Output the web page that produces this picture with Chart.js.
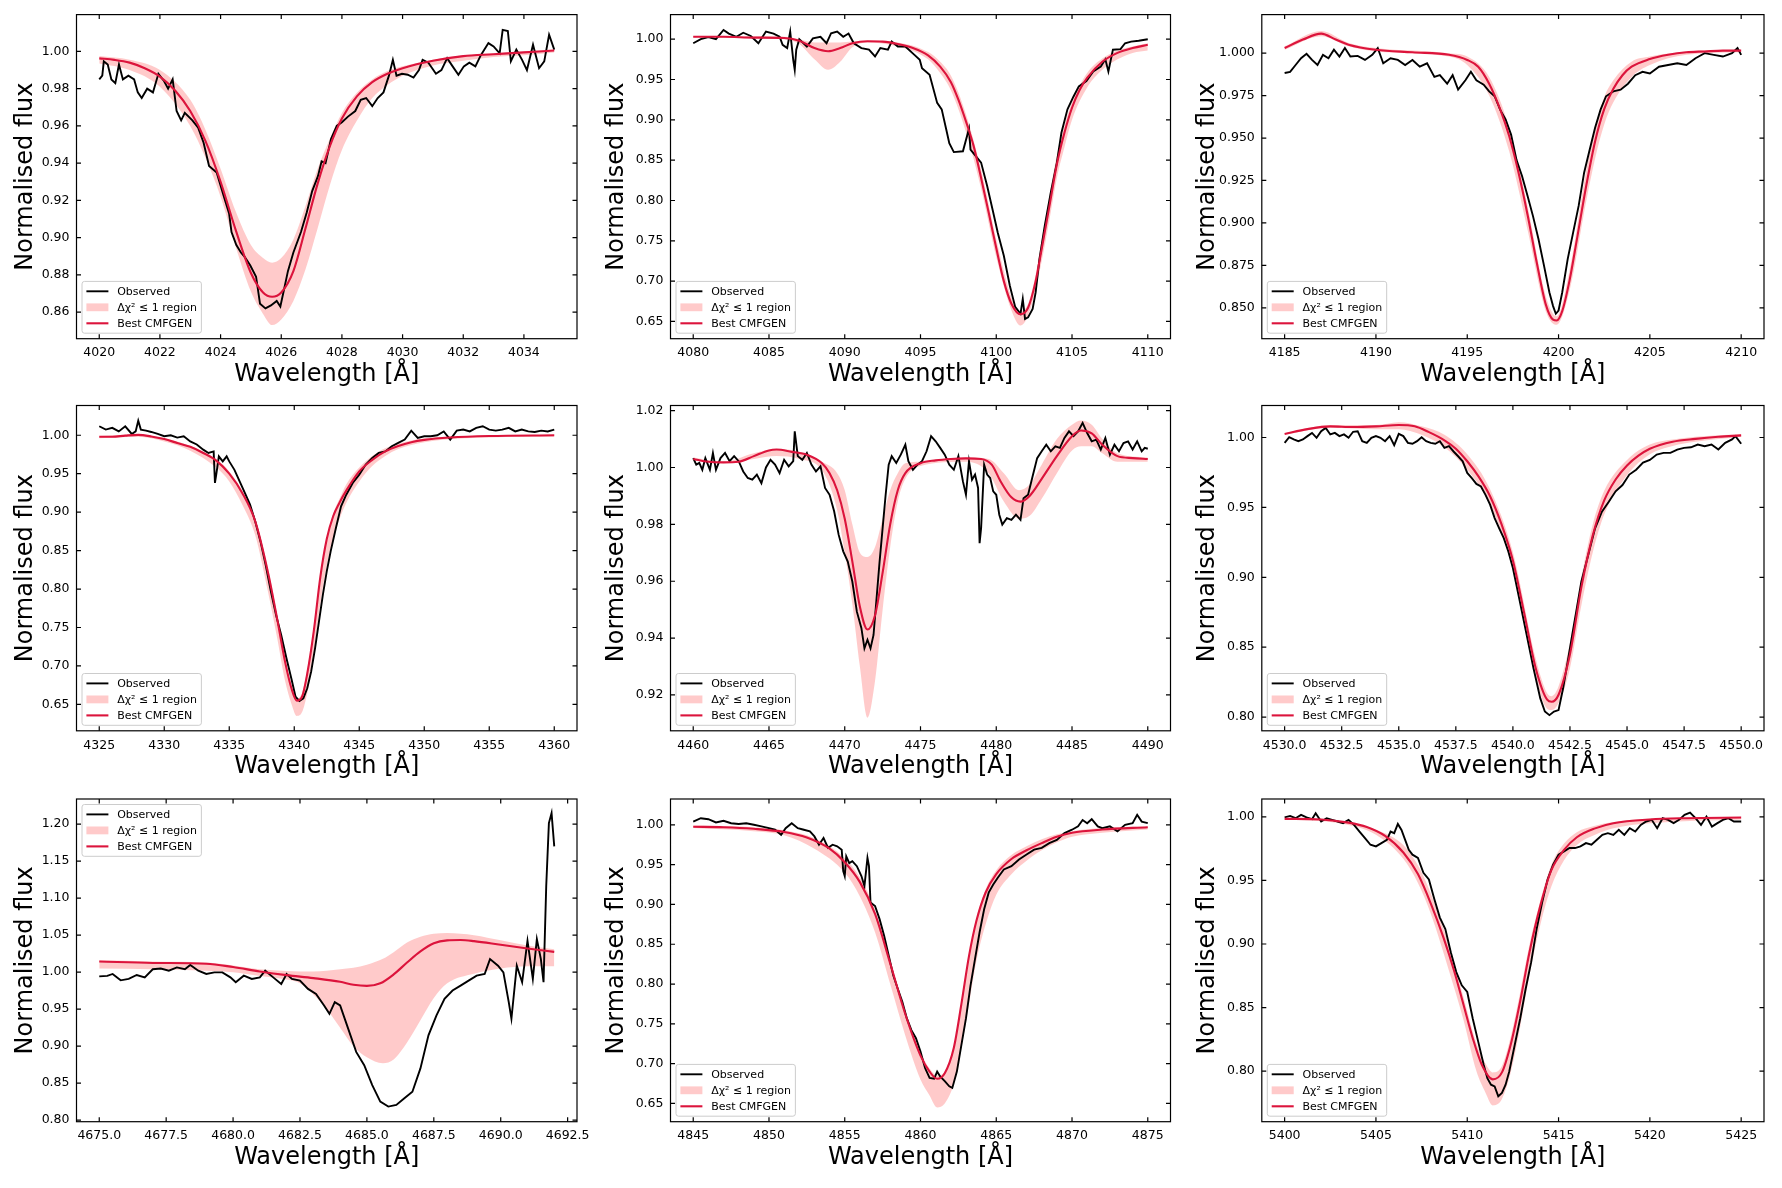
<!DOCTYPE html>
<html>
<head>
<meta charset="utf-8">
<script src="https://cdn.jsdelivr.net/npm/chart.js@4.4.1/dist/chart.umd.min.js"></script>
<style>
  body { margin: 0; background: #fff; width: 1782px; height: 1188px; position: relative; overflow: hidden; }
  canvas { position: absolute; }
</style>
</head>
<body>
<script>
// ---- data: observed [x, y], model [x, y], band [x, lo, hi] ----
const p1Obs = [[4020.0,0.985],[4020.1,0.987],[4020.15,0.9947],[4020.28,0.993],[4020.4,0.985],[4020.53,0.983],[4020.65,0.993],[4020.78,0.985],[4020.96,0.987],[4021.15,0.985],[4021.27,0.978],[4021.4,0.975],[4021.58,0.980],[4021.77,0.978],[4021.95,0.988],[4022.14,0.984],[4022.27,0.980],[4022.42,0.985],[4022.55,0.968],[4022.7,0.963],[4022.82,0.967],[4023.07,0.963],[4023.26,0.959],[4023.44,0.951],[4023.62,0.9385],[4023.87,0.935],[4024.11,0.922],[4024.28,0.913],[4024.36,0.903],[4024.52,0.896],[4024.67,0.892],[4024.8,0.8895],[4024.98,0.885],[4025.17,0.879],[4025.3,0.8645],[4025.48,0.862],[4025.66,0.8636],[4025.85,0.866],[4025.97,0.863],[4026.09,0.872],[4026.22,0.882],[4026.4,0.892],[4026.65,0.903],[4026.84,0.9135],[4027.02,0.925],[4027.21,0.933],[4027.33,0.941],[4027.46,0.940],[4027.64,0.953],[4027.83,0.960],[4028.0,0.962],[4028.2,0.965],[4028.44,0.968],[4028.62,0.974],[4028.8,0.975],[4029.0,0.9706],[4029.18,0.975],[4029.37,0.978],[4029.55,0.987],[4029.68,0.9955],[4029.8,0.987],[4029.98,0.988],[4030.17,0.9875],[4030.36,0.986],[4030.54,0.990],[4030.66,0.9955],[4030.85,0.994],[4031.1,0.988],[4031.28,0.990],[4031.47,0.9964],[4031.65,0.992],[4031.84,0.9875],[4032.02,0.992],[4032.2,0.994],[4032.4,0.992],[4032.58,0.998],[4032.83,1.0045],[4033.0,1.0027],[4033.2,0.999],[4033.3,1.0116],[4033.47,1.011],[4033.57,0.9947],[4033.75,1.001],[4033.94,0.9955],[4034.1,0.990],[4034.3,1.0036],[4034.5,0.991],[4034.67,0.9947],[4034.83,1.009],[4035.0,1.001]];
const p1Model = [[4020,0.9963],[4020.5,0.9955],[4021,0.994],[4021.5,0.991],[4022,0.9865],[4022.5,0.979],[4023,0.968],[4023.5,0.952],[4024,0.930],[4024.5,0.904],[4025,0.881],[4025.4,0.8705],[4025.7,0.8682],[4026,0.8705],[4026.4,0.882],[4026.8,0.905],[4027.2,0.929],[4027.6,0.949],[4028,0.964],[4028.5,0.976],[4029,0.9835],[4029.5,0.988],[4030,0.991],[4031,0.995],[4032,0.9975],[4033,0.9985],[4034,0.9995],[4035,1.0005]];
const p1Band = [[4020,0.9935,0.9975],[4021,0.990,0.9955],[4022,0.981,0.990],[4023,0.960,0.974],[4023.5,0.943,0.958],[4024,0.922,0.937],[4024.5,0.895,0.914],[4025,0.871,0.896],[4025.4,0.859,0.889],[4025.7,0.853,0.8865],[4026,0.856,0.889],[4026.4,0.866,0.899],[4026.8,0.883,0.917],[4027.2,0.905,0.937],[4027.6,0.928,0.953],[4028,0.947,0.967],[4028.5,0.963,0.978],[4029,0.975,0.985],[4029.5,0.982,0.9895],[4030,0.987,0.992],[4031,0.9925,0.9955],[4032,0.995,0.998],[4033,0.997,0.999],[4034,0.998,1.0],[4035,0.9995,1.001]];

const p2Obs = [[4080.0,0.995],[4080.5,1.0],[4081.0,1.0025],[4081.5,1.0],[4082.0,1.0115],[4082.35,1.007],[4082.85,1.003],[4083.3,1.008],[4083.8,1.004],[4084.3,0.995],[4084.8,1.0095],[4085.3,1.007],[4085.7,1.003],[4085.9,0.993],[4086.2,0.989],[4086.4,1.0095],[4086.6,0.9745],[4086.7,0.962],[4086.8,0.987],[4087.0,1.0],[4087.5,0.991],[4087.9,1.001],[4088.4,1.003],[4088.8,0.995],[4089.1,1.0074],[4089.5,1.0095],[4089.9,1.003],[4090.25,1.007],[4090.6,0.995],[4091.1,0.989],[4091.6,0.987],[4092.0,0.9786],[4092.35,0.989],[4092.85,0.987],[4093.1,0.997],[4093.5,0.991],[4094.0,0.991],[4094.6,0.9806],[4094.95,0.9745],[4095.1,0.964],[4095.6,0.956],[4096.1,0.921],[4096.4,0.913],[4096.7,0.888],[4096.9,0.871],[4097.2,0.860],[4097.8,0.861],[4098.2,0.889],[4098.3,0.863],[4098.65,0.855],[4099.0,0.847],[4099.4,0.818],[4099.8,0.785],[4100.1,0.760],[4100.5,0.7315],[4100.9,0.694],[4101.25,0.668],[4101.6,0.6595],[4101.75,0.678],[4101.9,0.653],[4102.1,0.655],[4102.4,0.6656],[4102.6,0.686],[4102.85,0.7274],[4103.2,0.7686],[4103.6,0.810],[4104.0,0.847],[4104.3,0.884],[4104.7,0.913],[4105.1,0.929],[4105.45,0.9415],[4105.95,0.948],[4106.4,0.960],[4106.9,0.966],[4107.2,0.975],[4107.4,0.960],[4107.7,0.987],[4108.2,0.9877],[4108.5,0.995],[4108.9,0.997],[4109.4,0.998],[4110.0,1.0]];
const p2Model = [[4080,1.003],[4082,1.003],[4084,1.002],[4086,1.0015],[4087,0.998],[4088,0.989],[4088.9,0.985],[4089.7,0.989],[4090.5,0.995],[4091.5,0.9975],[4092.5,0.997],[4093.5,0.994],[4094.5,0.989],[4095.5,0.980],[4096.3,0.966],[4097,0.947],[4097.5,0.925],[4098,0.898],[4098.5,0.868],[4099,0.828],[4099.5,0.785],[4100,0.741],[4100.5,0.700],[4101,0.672],[4101.6,0.659],[4102.1,0.667],[4102.6,0.700],[4103,0.740],[4103.5,0.792],[4104,0.845],[4104.5,0.884],[4105,0.915],[4105.5,0.937],[4106,0.952],[4107,0.972],[4108,0.983],[4109,0.989],[4110,0.993]];
const p2Band = [[4080,1.002,1.004],[4086,1.0,1.003],[4087,0.994,1.0],[4088,0.975,0.996],[4088.9,0.962,0.996],[4089.7,0.972,0.996],[4090.5,0.990,0.997],[4091.5,0.996,0.998],[4093.5,0.991,0.996],[4095.5,0.975,0.984],[4096.3,0.958,0.972],[4097,0.937,0.955],[4098,0.885,0.907],[4099,0.815,0.838],[4100,0.730,0.752],[4101,0.664,0.680],[4101.6,0.645,0.663],[4102.1,0.657,0.672],[4102.6,0.690,0.708],[4103,0.725,0.752],[4103.5,0.775,0.805],[4104,0.828,0.856],[4104.5,0.866,0.893],[4105,0.900,0.922],[4106,0.940,0.958],[4107,0.962,0.976],[4108,0.975,0.986],[4109,0.983,0.991],[4110,0.986,0.995]];

const p3Obs = [[4185.0,0.9883],[4185.3,0.989],[4185.6,0.993],[4185.9,0.997],[4186.2,0.9996],[4186.5,0.996],[4186.8,0.993],[4187.1,0.999],[4187.4,0.997],[4187.7,1.002],[4188.0,0.998],[4188.3,1.003],[4188.6,0.998],[4189.0,0.9984],[4189.4,0.996],[4189.8,0.999],[4190.1,1.003],[4190.4,0.994],[4190.8,0.997],[4191.2,0.996],[4191.6,0.993],[4192.0,0.996],[4192.4,0.992],[4192.8,0.994],[4193.2,0.986],[4193.5,0.987],[4193.9,0.982],[4194.2,0.987],[4194.5,0.9785],[4194.9,0.984],[4195.2,0.989],[4195.5,0.984],[4195.9,0.9814],[4196.2,0.9775],[4196.5,0.9746],[4196.8,0.9667],[4197.1,0.961],[4197.4,0.952],[4197.7,0.937],[4198.0,0.9276],[4198.3,0.916],[4198.6,0.904],[4198.9,0.8905],[4199.2,0.875],[4199.5,0.859],[4199.7,0.851],[4199.85,0.8465],[4200.0,0.8484],[4200.2,0.859],[4200.5,0.8787],[4200.8,0.8944],[4201.1,0.910],[4201.4,0.9296],[4201.7,0.943],[4202.0,0.956],[4202.3,0.9667],[4202.6,0.9746],[4203.0,0.9775],[4203.4,0.9785],[4203.8,0.982],[4204.2,0.987],[4204.6,0.989],[4205.0,0.988],[4205.5,0.992],[4206.0,0.993],[4206.5,0.994],[4207.0,0.993],[4207.5,0.997],[4208.0,1.0],[4208.5,0.999],[4209.0,0.998],[4209.5,1.0],[4209.8,1.003],[4210.0,0.999]];
const p3Model = [[4185,1.003],[4186,1.008],[4187,1.0115],[4187.8,1.008],[4188.5,1.005],[4190,1.002],[4192,1.0005],[4194,0.999],[4195,0.996],[4195.6,0.992],[4196.2,0.982],[4196.8,0.967],[4197.3,0.951],[4197.8,0.930],[4198.3,0.905],[4198.8,0.877],[4199.3,0.852],[4199.7,0.843],[4199.9,0.8425],[4200.2,0.848],[4200.6,0.866],[4201,0.890],[4201.5,0.921],[4202,0.948],[4202.5,0.967],[4203,0.979],[4203.5,0.987],[4204,0.992],[4205,0.9965],[4206,0.999],[4207,1.0005],[4208,1.001],[4209,1.0015],[4210,1.0015]];
const p3Band = [[4185,1.002,1.004],[4187,1.010,1.013],[4188.5,1.004,1.006],[4190,1.001,1.003],[4194,0.998,1.0],[4195,0.993,0.998],[4196.2,0.975,0.986],[4197.3,0.942,0.956],[4198.3,0.896,0.910],[4199.3,0.848,0.857],[4199.9,0.840,0.845],[4200.6,0.860,0.872],[4201.5,0.912,0.930],[4202,0.938,0.956],[4202.5,0.958,0.974],[4203,0.971,0.984],[4204,0.986,0.995],[4205,0.993,0.998],[4207,0.999,1.001],[4210,1.0005,1.002]];

const p4Obs = [[4325.0,1.0117],[4325.5,1.0074],[4326.0,1.0096],[4326.5,1.005],[4327.0,1.0117],[4327.5,1.0017],[4327.8,1.005],[4328.0,1.019],[4328.2,1.0074],[4328.6,1.006],[4329.0,1.0043],[4329.5,1.0017],[4330.0,0.9987],[4330.5,1.0],[4331.0,0.997],[4331.5,0.9987],[4332.0,0.992],[4332.5,0.988],[4333.0,0.9813],[4333.4,0.977],[4333.8,0.979],[4333.9,0.938],[4334.0,0.9488],[4334.2,0.9726],[4334.5,0.966],[4334.8,0.9726],[4335.0,0.966],[4335.4,0.955],[4335.8,0.940],[4336.2,0.925],[4336.6,0.9097],[4337.0,0.888],[4337.4,0.862],[4337.8,0.8315],[4338.2,0.797],[4338.6,0.7664],[4339.0,0.740],[4339.4,0.710],[4339.8,0.682],[4340.1,0.660],[4340.4,0.6544],[4340.7,0.658],[4341.0,0.671],[4341.3,0.6926],[4341.6,0.723],[4341.9,0.7577],[4342.2,0.7925],[4342.5,0.823],[4342.8,0.849],[4343.2,0.879],[4343.6,0.9075],[4344.0,0.9227],[4344.5,0.938],[4345.0,0.9488],[4345.5,0.962],[4346.0,0.9705],[4346.5,0.977],[4347.0,0.979],[4347.5,0.9857],[4348.0,0.990],[4348.5,0.9944],[4349.0,1.006],[4349.5,0.9965],[4350.0,0.9987],[4350.5,0.9987],[4351.0,1.0],[4351.5,1.005],[4352.0,0.9944],[4352.5,1.006],[4353.0,1.0074],[4353.5,1.005],[4354.0,1.0096],[4354.5,1.0117],[4355.0,1.0074],[4355.5,1.006],[4356.0,1.0074],[4356.5,1.0096],[4357.0,1.005],[4357.5,1.0074],[4358.0,1.005],[4358.5,1.0043],[4359.0,1.006],[4359.5,1.005],[4360.0,1.0074]];
const p4Model = [[4325,0.998],[4326,0.998],[4327,0.9995],[4328,1.0005],[4329,0.9985],[4330,0.995],[4331,0.990],[4332,0.985],[4333,0.977],[4334,0.967],[4335,0.950],[4336,0.925],[4337,0.888],[4338,0.820],[4338.7,0.760],[4339.3,0.705],[4339.8,0.670],[4340.2,0.655],[4340.6,0.660],[4341,0.690],[4341.5,0.745],[4342,0.815],[4342.5,0.865],[4343,0.895],[4343.5,0.913],[4344,0.928],[4345,0.953],[4346,0.968],[4347,0.979],[4348,0.986],[4349,0.991],[4350,0.994],[4352,0.997],[4355,0.999],[4360,1.0]];
const p4Band = [[4325,0.996,0.999],[4328,0.998,1.001],[4330,0.992,0.996],[4332,0.980,0.986],[4334,0.958,0.969],[4335,0.940,0.953],[4336,0.910,0.928],[4337,0.870,0.892],[4338,0.795,0.825],[4338.7,0.735,0.765],[4339.3,0.680,0.710],[4339.8,0.650,0.675],[4340.2,0.635,0.658],[4340.6,0.640,0.665],[4341,0.665,0.695],[4341.5,0.715,0.750],[4342,0.780,0.818],[4342.5,0.830,0.866],[4343,0.865,0.898],[4343.5,0.892,0.918],[4344,0.912,0.936],[4345,0.940,0.958],[4346,0.960,0.973],[4347,0.973,0.983],[4348,0.982,0.989],[4350,0.991,0.996],[4355,0.997,0.9995],[4360,0.998,1.0005]];

const p5Obs = [[4460.0,1.0033],[4460.2,1.001],[4460.4,1.0016],[4460.6,0.9992],[4460.8,1.0033],[4461.1,0.9992],[4461.3,1.0051],[4461.5,0.9992],[4461.8,1.0033],[4462.1,1.0051],[4462.4,1.0022],[4462.7,1.004],[4463.0,1.0022],[4463.3,0.9986],[4463.6,0.9963],[4463.9,0.9957],[4464.2,0.9975],[4464.5,0.9945],[4464.8,1.0],[4465.1,1.0027],[4465.4,1.001],[4465.7,0.998],[4466.0,1.0027],[4466.3,1.0004],[4466.6,1.0022],[4466.7,1.0127],[4466.9,1.004],[4467.2,1.0027],[4467.5,1.0051],[4467.8,1.001],[4468.1,0.9986],[4468.4,1.0004],[4468.7,0.9928],[4469.0,0.9904],[4469.3,0.9846],[4469.6,0.9763],[4469.9,0.9705],[4470.2,0.9669],[4470.5,0.9599],[4470.8,0.9493],[4471.1,0.9435],[4471.3,0.9364],[4471.5,0.9394],[4471.7,0.9364],[4471.9,0.9411],[4472.1,0.954],[4472.3,0.9669],[4472.5,0.9787],[4472.7,0.9904],[4472.9,1.001],[4473.1,1.004],[4473.4,1.0016],[4473.7,1.0045],[4474.0,1.008],[4474.2,1.0022],[4474.5,0.9992],[4474.8,1.001],[4475.1,1.0022],[4475.4,1.0057],[4475.7,1.011],[4476.0,1.0092],[4476.3,1.0069],[4476.6,1.0045],[4476.9,1.001],[4477.2,0.9992],[4477.5,1.004],[4477.8,0.9951],[4478.0,0.9904],[4478.2,1.0022],[4478.4,0.9957],[4478.6,0.9975],[4478.8,0.9928],[4478.9,0.9734],[4479.0,0.9787],[4479.2,1.001],[4479.4,0.9975],[4479.6,0.9963],[4479.8,0.9916],[4480.0,0.9904],[4480.2,0.9834],[4480.4,0.9799],[4480.7,0.9822],[4481.0,0.9816],[4481.3,0.9834],[4481.6,0.9816],[4481.8,0.9892],[4482.1,0.9904],[4482.4,0.9969],[4482.7,1.0033],[4483.0,1.0057],[4483.3,1.008],[4483.6,1.0057],[4483.9,1.0074],[4484.2,1.0069],[4484.5,1.0104],[4484.8,1.0127],[4485.1,1.011],[4485.4,1.0127],[4485.7,1.0157],[4486.0,1.0121],[4486.3,1.0092],[4486.6,1.0098],[4486.9,1.0063],[4487.2,1.0104],[4487.5,1.0045],[4487.8,1.008],[4488.1,1.0057],[4488.4,1.0086],[4488.7,1.0092],[4489.0,1.0063],[4489.3,1.0092],[4489.6,1.0057],[4489.8,1.0069],[4490.0,1.0066]];
const p5Model = [[4460,1.003],[4461,1.002],[4462,1.0018],[4463,1.002],[4464,1.004],[4465,1.006],[4465.5,1.0063],[4466.5,1.0055],[4467.5,1.0045],[4468.5,1.0015],[4469,0.998],[4469.5,0.992],[4470,0.982],[4470.5,0.967],[4471,0.951],[4471.5,0.943],[4472,0.948],[4472.5,0.963],[4473,0.980],[4473.5,0.992],[4474,0.998],[4475,1.0015],[4476,1.0025],[4477,1.003],[4478,1.0032],[4479,1.003],[4479.7,1.001],[4480.3,0.995],[4481,0.9895],[4481.6,0.988],[4482.2,0.990],[4483,0.996],[4484,1.004],[4485,1.011],[4485.6,1.013],[4486.3,1.012],[4487,1.008],[4488,1.004],[4489,1.0033],[4490,1.003]];
const p5Band = [[4460,1.0025,1.0035],[4462,1.0015,1.002],[4464,1.003,1.005],[4465.5,1.004,1.0065],[4467,1.003,1.0055],[4468.5,0.999,1.002],[4469.5,0.985,0.998],[4470,0.970,0.992],[4470.5,0.952,0.980],[4471,0.930,0.970],[4471.5,0.912,0.9685],[4472,0.925,0.972],[4472.5,0.950,0.982],[4473,0.972,0.992],[4473.5,0.988,0.998],[4474,0.996,1.0015],[4475,1.0005,1.002],[4478,1.002,1.0035],[4479.5,0.998,1.003],[4480.5,0.988,0.998],[4481.5,0.982,0.992],[4482.2,0.983,0.994],[4483,0.989,1.001],[4484,0.998,1.010],[4485,1.006,1.015],[4485.6,1.0075,1.0165],[4486.3,1.0075,1.015],[4487,1.005,1.010],[4488,1.002,1.005],[4490,1.002,1.0035]];

const p6Obs = [[4530.0,0.9962],[4530.2,1.0002],[4530.4,0.9986],[4530.6,0.9974],[4530.8,0.9986],[4531.0,1.001],[4531.2,1.0033],[4531.4,0.9998],[4531.6,1.0045],[4531.8,1.0069],[4532.0,1.0022],[4532.2,1.0033],[4532.4,1.001],[4532.6,1.0022],[4532.8,0.9998],[4533.0,1.0041],[4533.2,1.0045],[4533.4,0.9974],[4533.6,0.9962],[4533.8,0.9998],[4534.0,1.001],[4534.2,0.9998],[4534.4,0.9974],[4534.6,1.001],[4534.8,0.9945],[4535.0,1.0026],[4535.2,1.001],[4535.4,0.9962],[4535.6,0.9955],[4535.8,0.9974],[4536.0,1.0002],[4536.2,0.9974],[4536.4,0.9962],[4536.6,0.9955],[4536.8,0.9974],[4537.0,0.9926],[4537.2,0.9938],[4537.4,0.990],[4537.6,0.9866],[4537.8,0.983],[4538.0,0.9747],[4538.2,0.971],[4538.4,0.9668],[4538.6,0.965],[4538.8,0.959],[4539.0,0.952],[4539.2,0.9424],[4539.4,0.935],[4539.6,0.928],[4539.8,0.9185],[4540.0,0.9066],[4540.3,0.883],[4540.6,0.859],[4540.9,0.835],[4541.2,0.8134],[4541.4,0.804],[4541.6,0.8014],[4541.8,0.804],[4542.0,0.805],[4542.2,0.8206],[4542.4,0.8397],[4542.6,0.859],[4542.8,0.878],[4543.0,0.897],[4543.3,0.916],[4543.6,0.935],[4543.9,0.947],[4544.2,0.954],[4544.5,0.9615],[4544.8,0.966],[4545.1,0.9735],[4545.4,0.977],[4545.7,0.982],[4546.0,0.984],[4546.3,0.9878],[4546.6,0.989],[4546.9,0.989],[4547.2,0.9914],[4547.5,0.9926],[4547.8,0.993],[4548.1,0.995],[4548.4,0.9938],[4548.7,0.995],[4549.0,0.9914],[4549.3,0.9962],[4549.6,0.9986],[4549.75,1.001],[4550.0,0.9955]];
const p6Model = [[4530,1.0025],[4531,1.006],[4532,1.008],[4533,1.0075],[4534,1.008],[4535,1.009],[4535.7,1.008],[4536.3,1.004],[4537,0.998],[4537.5,0.992],[4538,0.983],[4538.5,0.972],[4539,0.958],[4539.5,0.938],[4540,0.912],[4540.5,0.874],[4541,0.835],[4541.5,0.8125],[4541.7,0.811],[4542,0.816],[4542.5,0.845],[4543,0.893],[4543.5,0.930],[4544,0.955],[4544.5,0.970],[4545,0.980],[4545.5,0.987],[4546,0.992],[4547,0.997],[4548,0.999],[4549,1.0005],[4550,1.0015]];
const p6Band = [[4530,1.002,1.003],[4532,1.007,1.009],[4534,1.006,1.009],[4535,1.006,1.011],[4536,1.002,1.008],[4537,0.993,1.002],[4538,0.977,0.988],[4539,0.952,0.963],[4540,0.905,0.918],[4541,0.828,0.842],[4541.5,0.806,0.817],[4541.7,0.805,0.815],[4542,0.810,0.822],[4542.5,0.835,0.853],[4543,0.880,0.900],[4543.5,0.918,0.938],[4544,0.945,0.962],[4545,0.973,0.984],[4546,0.988,0.995],[4547,0.994,0.9985],[4548,0.997,1.0005],[4550,1.0005,1.0025]];

const p7Obs = [[4675.0,0.9944],[4675.3,0.995],[4675.5,0.9976],[4675.8,0.989],[4676.1,0.9909],[4676.4,0.9962],[4676.7,0.993],[4677.0,1.004],[4677.3,1.005],[4677.6,1.002],[4677.9,1.0065],[4678.2,1.004],[4678.4,1.0097],[4678.7,1.002],[4679.0,0.9976],[4679.3,0.9998],[4679.6,0.9998],[4679.9,0.993],[4680.1,0.9864],[4680.4,0.9953],[4680.7,0.9909],[4681.0,0.993],[4681.2,1.002],[4681.5,0.993],[4681.8,0.9841],[4682.0,0.9976],[4682.2,0.9909],[4682.5,0.9886],[4682.8,0.9774],[4683.1,0.9707],[4683.4,0.955],[4683.6,0.9438],[4683.8,0.9595],[4684.0,0.955],[4684.3,0.9237],[4684.6,0.8923],[4684.9,0.8744],[4685.2,0.8475],[4685.5,0.8251],[4685.8,0.8184],[4686.1,0.8206],[4686.4,0.8296],[4686.7,0.8385],[4687.0,0.87],[4687.3,0.9147],[4687.6,0.9416],[4687.9,0.964],[4688.2,0.9752],[4688.5,0.9819],[4688.8,0.9886],[4689.1,0.9953],[4689.4,0.9976],[4689.6,1.0177],[4689.9,1.0088],[4690.1,0.9998],[4690.3,0.9595],[4690.4,0.9371],[4690.6,1.0088],[4690.8,0.9864],[4691.0,1.0424],[4691.2,0.9909],[4691.35,1.0446],[4691.5,1.0177],[4691.6,0.9864],[4691.7,1.116],[4691.8,1.2014],[4691.9,1.215],[4692.0,1.170]];
const p7Model = [[4675,1.0145],[4677,1.0125],[4679,1.0115],[4680,1.007],[4681,1.001],[4682,0.996],[4683,0.992],[4684,0.987],[4684.5,0.983],[4685,0.9815],[4685.5,0.985],[4686,0.997],[4686.5,1.013],[4687,1.028],[4687.5,1.039],[4688,1.043],[4688.5,1.0435],[4689,1.042],[4690,1.037],[4691,1.032],[4692,1.0275]];
const p7Band = [[4675,1.005,1.016],[4677,1.004,1.0145],[4679,1.002,1.013],[4680,1.0,1.009],[4681,0.995,1.004],[4682,0.990,1.0015],[4682.5,0.985,1.001],[4683,0.970,1.001],[4683.5,0.950,1.002],[4684,0.925,1.004],[4684.5,0.900,1.006],[4685,0.885,1.010],[4685.6,0.877,1.018],[4686,0.882,1.027],[4686.5,0.905,1.040],[4687,0.935,1.048],[4687.5,0.965,1.052],[4688,0.985,1.053],[4689,0.998,1.050],[4690,1.005,1.043],[4691,1.008,1.036],[4692,1.008,1.031]];

const p8Obs = [[4845.0,1.004],[4845.5,1.0083],[4846.0,1.007],[4846.5,1.003],[4847.0,1.005],[4847.5,1.002],[4848.0,1.001],[4848.5,1.002],[4849.0,1.0],[4849.5,0.998],[4850.0,0.9958],[4850.4,0.9938],[4850.8,0.9875],[4851.1,0.9958],[4851.5,1.002],[4851.9,0.9958],[4852.3,0.9938],[4852.7,0.9917],[4853.0,0.9854],[4853.3,0.975],[4853.6,0.9834],[4853.9,0.971],[4854.2,0.975],[4854.5,0.973],[4854.8,0.9688],[4854.9,0.9418],[4855.0,0.9356],[4855.1,0.9605],[4855.3,0.952],[4855.5,0.9543],[4855.8,0.948],[4856.1,0.9356],[4856.3,0.923],[4856.5,0.9584],[4856.6,0.948],[4856.7,0.9023],[4857.0,0.898],[4857.3,0.8815],[4857.6,0.8607],[4857.9,0.8358],[4858.2,0.811],[4858.5,0.794],[4858.8,0.7776],[4859.1,0.7568],[4859.4,0.742],[4859.7,0.7319],[4860.0,0.7152],[4860.3,0.6945],[4860.6,0.682],[4860.9,0.681],[4861.1,0.690],[4861.3,0.684],[4861.6,0.678],[4861.9,0.6716],[4862.1,0.6695],[4862.4,0.690],[4862.7,0.7236],[4863.0,0.7568],[4863.3,0.798],[4863.6,0.8316],[4863.9,0.865],[4864.2,0.894],[4864.5,0.9148],[4864.8,0.925],[4865.1,0.9335],[4865.5,0.9439],[4866.0,0.948],[4866.5,0.9564],[4867.0,0.9626],[4867.5,0.9688],[4868.0,0.971],[4868.5,0.977],[4869.0,0.981],[4869.5,0.9896],[4870.0,0.9938],[4870.4,0.998],[4870.7,1.006],[4871.0,1.002],[4871.3,1.007],[4871.7,0.998],[4872.0,0.9958],[4872.5,0.998],[4873.0,0.9917],[4873.5,1.0],[4874.0,1.002],[4874.3,1.0125],[4874.6,1.004],[4875.0,1.002]];
const p8Model = [[4845,0.9975],[4847,0.997],[4849,0.995],[4851,0.991],[4852.5,0.984],[4854,0.970],[4855,0.953],[4856,0.928],[4857,0.888],[4858,0.826],[4859,0.762],[4860,0.710],[4860.6,0.690],[4861.1,0.681],[4861.6,0.688],[4862.2,0.720],[4862.7,0.775],[4863.2,0.835],[4863.7,0.880],[4864.3,0.915],[4865,0.938],[4866,0.957],[4867,0.968],[4868,0.977],[4869,0.985],[4870,0.990],[4872,0.994],[4875,0.997]];
const p8Band = [[4845,0.996,0.999],[4849,0.992,0.997],[4851,0.987,0.993],[4853,0.970,0.983],[4855,0.940,0.958],[4856,0.910,0.934],[4857,0.865,0.893],[4858,0.800,0.830],[4859,0.735,0.766],[4860,0.680,0.714],[4860.6,0.660,0.694],[4861.1,0.645,0.685],[4861.6,0.650,0.690],[4862.2,0.675,0.722],[4862.7,0.720,0.778],[4863.2,0.775,0.838],[4863.7,0.830,0.883],[4864.3,0.875,0.919],[4865,0.912,0.943],[4866,0.938,0.962],[4867,0.955,0.973],[4868,0.968,0.982],[4869,0.978,0.988],[4870,0.985,0.992],[4872,0.990,0.996],[4875,0.994,0.998]];

const p9Obs = [[5400.0,0.9997],[5400.3,1.0008],[5400.6,0.999],[5400.9,1.0016],[5401.2,0.9997],[5401.5,0.9982],[5401.7,1.0029],[5402.0,0.9964],[5402.3,0.999],[5402.6,0.9977],[5402.9,0.9964],[5403.2,0.9951],[5403.5,0.9977],[5403.8,0.9937],[5404.1,0.9885],[5404.4,0.9833],[5404.7,0.9781],[5405.0,0.9768],[5405.3,0.9794],[5405.6,0.982],[5405.8,0.9885],[5406.0,0.9872],[5406.2,0.9945],[5406.4,0.9898],[5406.6,0.982],[5406.8,0.9742],[5407.0,0.9703],[5407.3,0.9677],[5407.6,0.956],[5407.9,0.9508],[5408.2,0.9352],[5408.5,0.9208],[5408.8,0.9117],[5409.1,0.8935],[5409.4,0.8779],[5409.7,0.8675],[5410.0,0.8623],[5410.3,0.8414],[5410.6,0.8232],[5410.9,0.805],[5411.1,0.7945],[5411.3,0.7893],[5411.5,0.788],[5411.7,0.7802],[5411.9,0.7828],[5412.1,0.7893],[5412.3,0.7997],[5412.6,0.8206],[5412.9,0.8414],[5413.2,0.8648],[5413.5,0.8857],[5413.8,0.9117],[5414.1,0.9326],[5414.4,0.9508],[5414.7,0.9625],[5415.0,0.9703],[5415.3,0.9729],[5415.6,0.9755],[5415.9,0.9755],[5416.2,0.9768],[5416.5,0.9794],[5416.8,0.9781],[5417.1,0.982],[5417.4,0.9859],[5417.7,0.9872],[5418.0,0.9859],[5418.3,0.9898],[5418.6,0.9859],[5418.9,0.9911],[5419.2,0.9885],[5419.5,0.9937],[5419.8,0.9964],[5420.1,0.9977],[5420.4,0.9911],[5420.7,0.999],[5421.0,0.9977],[5421.3,0.9951],[5421.6,0.9977],[5421.9,1.0016],[5422.2,1.0034],[5422.5,0.999],[5422.8,0.9937],[5423.1,1.0003],[5423.4,0.9924],[5423.7,0.9951],[5424.0,0.9977],[5424.3,0.999],[5424.6,0.9964],[5425.0,0.9964]];
const p9Model = [[5400,0.9985],[5402,0.998],[5403.5,0.9955],[5404.5,0.992],[5405.5,0.985],[5406.5,0.972],[5407.3,0.955],[5408,0.932],[5408.7,0.905],[5409.3,0.878],[5409.8,0.852],[5410.3,0.826],[5410.8,0.805],[5411.4,0.7935],[5411.9,0.799],[5412.4,0.822],[5412.9,0.855],[5413.4,0.893],[5414,0.930],[5414.6,0.958],[5415.3,0.974],[5416,0.984],[5417,0.991],[5418,0.995],[5420,0.998],[5422,0.999],[5425,0.9995]];
const p9Band = [[5400,0.998,0.999],[5403,0.995,0.997],[5405,0.986,0.990],[5406.5,0.967,0.978],[5407.3,0.948,0.962],[5408,0.924,0.940],[5409,0.879,0.899],[5409.8,0.840,0.858],[5410.5,0.800,0.822],[5411,0.783,0.806],[5411.4,0.773,0.799],[5411.9,0.778,0.804],[5412.4,0.800,0.828],[5412.9,0.835,0.862],[5413.4,0.875,0.899],[5414,0.915,0.934],[5414.6,0.945,0.962],[5415.3,0.966,0.979],[5416,0.978,0.988],[5417,0.986,0.993],[5418,0.991,0.996],[5420,0.995,0.9985],[5425,0.998,0.9995]];

// tick labels
const p1XTicks = [4020, 4022, 4024, 4026, 4028, 4030, 4032, 4034];
const p1YTicks = [0.86, 0.88, 0.90, 0.92, 0.94, 0.96, 0.98, 1.00];
const p2XTicks = [4080, 4085, 4090, 4095, 4100, 4105, 4110];
const p2YTicks = [0.65, 0.70, 0.75, 0.80, 0.85, 0.90, 0.95, 1.00];
const p3XTicks = [4185, 4190, 4195, 4200, 4205, 4210];
const p3YTicks = [0.850, 0.875, 0.900, 0.925, 0.950, 0.975, 1.000];
const p4XTicks = [4325, 4330, 4335, 4340, 4345, 4350, 4355, 4360];
const p4YTicks = [0.65, 0.70, 0.75, 0.80, 0.85, 0.90, 0.95, 1.00];
const p5XTicks = [4460, 4465, 4470, 4475, 4480, 4485, 4490];
const p5YTicks = [0.92, 0.94, 0.96, 0.98, 1.00, 1.02];
const p6XTicks = [4530, 4532.5, 4535, 4537.5, 4540, 4542.5, 4545, 4547.5, 4550];
const p6YTicks = [0.80, 0.85, 0.90, 0.95, 1.00];
const p7XTicks = [4675, 4677.5, 4680, 4682.5, 4685, 4687.5, 4690, 4692.5];
const p7YTicks = [0.80, 0.85, 0.90, 0.95, 1.00, 1.05, 1.10, 1.15, 1.20];
const p8XTicks = [4845, 4850, 4855, 4860, 4865, 4870, 4875];
const p8YTicks = [0.65, 0.70, 0.75, 0.80, 0.85, 0.90, 0.95, 1.00];
const p9XTicks = [5400, 5405, 5410, 5415, 5420, 5425];
const p9YTicks = [0.80, 0.85, 0.90, 0.95, 1.00];

const panels = [
  { obs: p1Obs, model: p1Model, band: p1Band, xr: [4019.25, 4035.75], yr: [0.8457, 1.0198], xt: p1XTicks, yt: p1YTicks, xd: 0, yd: 2, legend: 'bottom' },
  { obs: p2Obs, model: p2Model, band: p2Band, xr: [4078.5, 4111.5], yr: [0.6286, 1.0305], xt: p2XTicks, yt: p2YTicks, xd: 0, yd: 2, legend: 'bottom' },
  { obs: p3Obs, model: p3Model, band: p3Band, xr: [4183.75, 4211.25], yr: [0.8318, 1.0227], xt: p3XTicks, yt: p3YTicks, xd: 0, yd: 3, legend: 'bottom' },
  { obs: p4Obs, model: p4Model, band: p4Band, xr: [4323.25, 4361.75], yr: [0.6157, 1.0387], xt: p4XTicks, yt: p4YTicks, xd: 0, yd: 2, legend: 'bottom' },
  { obs: p5Obs, model: p5Model, band: p5Band, xr: [4458.5, 4491.5], yr: [0.9074, 1.0218], xt: p5XTicks, yt: p5YTicks, xd: 0, yd: 2, legend: 'bottom' },
  { obs: p6Obs, model: p6Model, band: p6Band, xr: [4529, 4551], yr: [0.7902, 1.0229], xt: p6XTicks, yt: p6YTicks, xd: 1, yd: 2, legend: 'bottom' },
  { obs: p7Obs, model: p7Model, band: p7Band, xr: [4674.15, 4692.85], yr: [0.798, 1.234], xt: p7XTicks, yt: p7YTicks, xd: 1, yd: 2, legend: 'top' },
  { obs: p8Obs, model: p8Model, band: p8Band, xr: [4843.5, 4876.5], yr: [0.6271, 1.0324], xt: p8XTicks, yt: p8YTicks, xd: 0, yd: 2, legend: 'bottom' },
  { obs: p9Obs, model: p9Model, band: p9Band, xr: [5398.75, 5426.25], yr: [0.7602, 1.0141], xt: p9XTicks, yt: p9YTicks, xd: 0, yd: 2, legend: 'bottom' },
];

// plot-box geometry on the page
const colLeft = [76.5, 670.5, 1261.8], colRight = [577, 1170.5, 1764];
const rowTop = [14.6, 405.5, 799], rowBottom = [338.7, 730.8, 1121.7];
const yTitleOff = [51, 53.5, 54.5];
const BAND = 'rgba(255,150,150,0.5)';

Chart.defaults.font.family = '"DejaVu Sans", sans-serif';
Chart.defaults.color = '#000';

// axes box and inward ticks on all four sides
const frameTicks = {
  id: 'frameTicks',
  afterDatasetsDraw(chart) {
    const { ctx, chartArea: a, scales: { x, y } } = chart;
    const L = 4.5;
    ctx.save();
    ctx.strokeStyle = '#000';
    ctx.lineWidth = 1.2;
    ctx.beginPath();
    x.ticks.forEach(t => {
      const px = x.getPixelForValue(t.value);
      ctx.moveTo(px, a.bottom); ctx.lineTo(px, a.bottom - L);
      ctx.moveTo(px, a.top); ctx.lineTo(px, a.top + L);
    });
    y.ticks.forEach(t => {
      const py = y.getPixelForValue(t.value);
      ctx.moveTo(a.left, py); ctx.lineTo(a.left + L, py);
      ctx.moveTo(a.right, py); ctx.lineTo(a.right - L, py);
    });
    ctx.stroke();
    ctx.strokeRect(a.left, a.top, a.right - a.left, a.bottom - a.top);
    ctx.restore();
  }
};

// matplotlib-style legend inside the axes
const boxLegend = {
  id: 'boxLegend',
  afterDraw(chart, args, opts) {
    const { ctx, chartArea: a } = chart;
    const ds = chart.data.datasets;
    const items = [ds[1], ds[2], ds[0]];
    const fs = 11, pad = 4.4, hl = 22, tp = 8.8, pitch = 16;
    ctx.save();
    ctx.font = fs + 'px "DejaVu Sans"';
    const tw = Math.max(...items.map(d => ctx.measureText(d.label).width));
    const w = pad * 2 + hl + tp + tw;
    const h = pad * 2 + pitch * 2 + fs;
    const x0 = a.left + 5.5;
    const y0 = opts.where === 'top' ? a.top + 5.5 : a.bottom - 5.5 - h;
    ctx.beginPath();
    ctx.roundRect(x0, y0, w, h, 2.5);
    ctx.fillStyle = 'rgba(255,255,255,0.8)';
    ctx.fill();
    ctx.strokeStyle = '#cccccc';
    ctx.lineWidth = 1;
    ctx.stroke();
    items.forEach((d, i) => {
      const cy = y0 + pad + fs / 2 + i * pitch;
      if (d.fill) {
        ctx.fillStyle = d.backgroundColor;
        ctx.fillRect(x0 + pad, cy - 3.9, hl, 7.8);
      } else {
        ctx.strokeStyle = d.borderColor;
        ctx.lineWidth = d.borderWidth;
        ctx.beginPath();
        ctx.moveTo(x0 + pad, cy); ctx.lineTo(x0 + pad + hl, cy);
        ctx.stroke();
      }
      ctx.fillStyle = '#000';
      ctx.textBaseline = 'middle';
      ctx.fillText(d.label, x0 + pad + hl + tp, cy + 0.5);
    });
    ctx.restore();
  }
};

// drop the label-overflow padding Chart.js adds, so the plot box stays where it is placed
const noScalePad = s => { s.paddingTop = 0; s.paddingBottom = 0; s.paddingLeft = 0; s.paddingRight = 0; };

panels.forEach((p, i) => {
  const r = Math.floor(i / 3), c = i % 3;
  const pl = colLeft[c], pr = colRight[c], pt = rowTop[r], pb = rowBottom[r];
  const cl = Math.round(pl - 76), ct = Math.round(pt - 9);
  const cw = Math.round(pr + 16) - cl, ch = Math.round(pb + 58) - ct;
  const yw = pl - cl, xh = ct + ch - pb;

  const canvas = document.createElement('canvas');
  canvas.width = cw; canvas.height = ch;
  canvas.style.left = cl + 'px'; canvas.style.top = ct + 'px';
  document.body.appendChild(canvas);

  const xy = arr => arr.map(([x, y]) => ({ x, y }));
  new Chart(canvas, {
    type: 'line',
    data: {
      datasets: [
        { label: 'Best CMFGEN', data: xy(p.model), borderColor: '#dc143c', borderWidth: 2.1,
          pointRadius: 0, cubicInterpolationMode: 'monotone', fill: false, order: 0 },
        { label: 'Observed', data: xy(p.obs), borderColor: '#000000', borderWidth: 1.9,
          pointRadius: 0, tension: 0, fill: false, order: 1 },
        { label: 'Δχ² ≤ 1 region', data: p.band.map(([x, lo, hi]) => ({ x, y: hi })),
          borderColor: 'rgba(0,0,0,0)', borderWidth: 0, backgroundColor: BAND,
          pointRadius: 0, cubicInterpolationMode: 'monotone', fill: '+1', order: 2 },
        { label: 'lower', data: p.band.map(([x, lo, hi]) => ({ x, y: lo })),
          borderColor: 'rgba(0,0,0,0)', borderWidth: 0,
          pointRadius: 0, cubicInterpolationMode: 'monotone', fill: false, order: 3 },
      ]
    },
    options: {
      responsive: false,
      animation: false,
      devicePixelRatio: 1,
      events: [],
      layout: { padding: { left: 0, top: pt - ct, right: cl + cw - pr, bottom: 0 } },
      plugins: {
        legend: { display: false },
        tooltip: { enabled: false },
        boxLegend: { where: p.legend },
      },
      scales: {
        x: {
          type: 'linear', min: p.xr[0], max: p.xr[1],
          grid: { display: false, drawTicks: false },
          border: { display: false },
          ticks: { padding: 7, autoSkip: false, maxRotation: 0, color: '#000',
                   font: { size: 12.5 }, callback: v => v.toFixed(p.xd) },
          afterBuildTicks: s => { s.ticks = p.xt.map(v => ({ value: v })); },
          afterFit: s => { s.height = xh; noScalePad(s); },
          title: { display: true, text: 'Wavelength [Å]', color: '#000', font: { size: 24 },
                   padding: { top: 0, bottom: xh - 36 - 14.4 } },
        },
        y: {
          min: p.yr[0], max: p.yr[1],
          grid: { display: false, drawTicks: false },
          border: { display: false },
          ticks: { padding: 7, autoSkip: false, color: '#000',
                   font: { size: 12.5 }, callback: v => v.toFixed(p.yd) },
          afterBuildTicks: s => { s.ticks = p.yt.map(v => ({ value: v })); },
          afterFit: s => { s.width = yw; noScalePad(s); },
          title: { display: true, text: 'Normalised flux', color: '#000', font: { size: 24 },
                   padding: { top: yw - yTitleOff[c] - 14.4, bottom: 0 } },
        }
      }
    },
    plugins: [frameTicks, boxLegend]
  });
});
</script>
</body>
</html>
